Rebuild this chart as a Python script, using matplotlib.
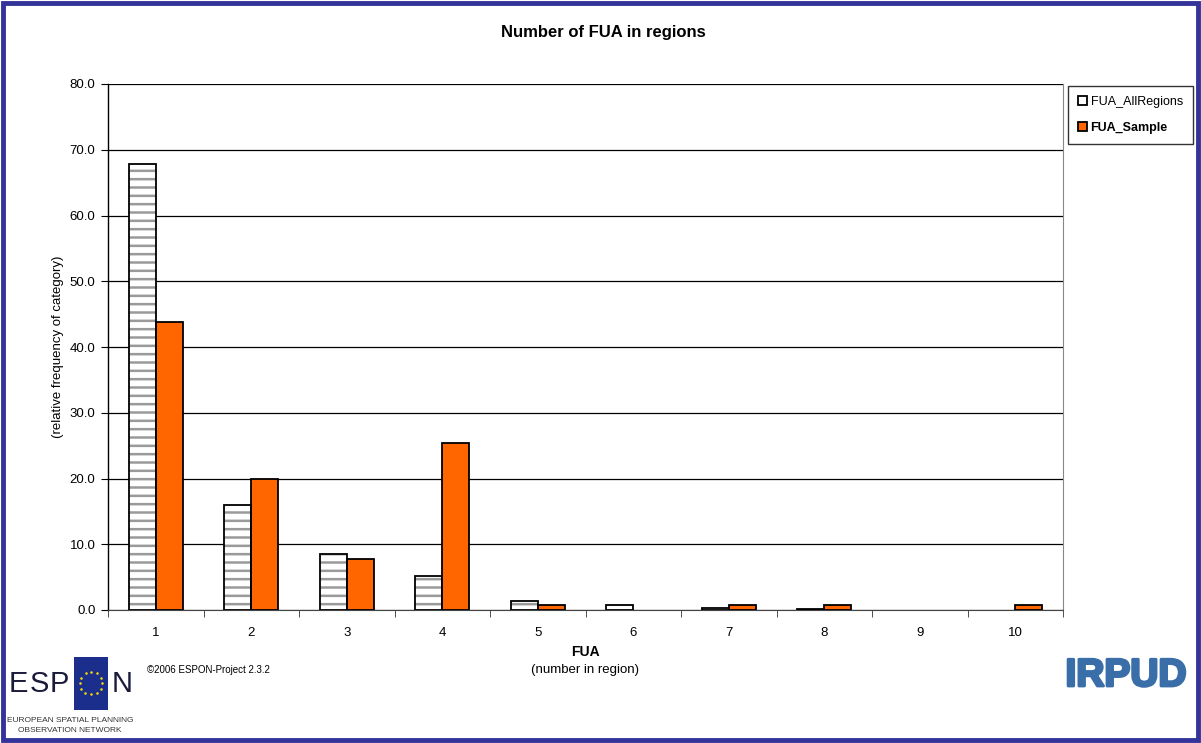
import numpy as np
import matplotlib.pyplot as plt
import matplotlib.patheffects as pe
from matplotlib.patches import Rectangle

plt.rcParams['font.family'] = ['Liberation Sans', 'DejaVu Sans']
plt.rcParams['hatch.linewidth'] = 1.8

categories = ['1', '2', '3', '4', '5', '6', '7', '8', '9', '10']
all_regions = [67.8, 15.9, 8.5, 5.2, 1.4, 0.8, 0.3, 0.15, 0.0, 0.0]
sample = [43.8, 20.0, 7.7, 25.4, 0.8, 0.0, 0.8, 0.8, 0.0, 0.8]
yticks = [0, 10, 20, 30, 40, 50, 60, 70, 80]

fig = plt.figure(figsize=(12.01, 7.43), dpi=100)
ax = fig.add_axes([108/1201, 1-610/743, (1063-108)/1201, (610-84)/743])

x = np.arange(1, len(categories)+1)
w = 0.283
# grey hatching first, then the black outline on top
h1 = ax.bar(x - w/2, all_regions, w, color='white', edgecolor='#9a9a9a', linewidth=0,
            hatch='--', zorder=3)
b1 = ax.bar(x - w/2, all_regions, w, color='none', edgecolor='black', linewidth=1.3,
            label='FUA_AllRegions', zorder=4)
b2 = ax.bar(x + w/2, sample, w, color='#ff6600', edgecolor='black', linewidth=1.3,
            label='FUA_Sample', zorder=3)
# empty categories show no bar at all
for p in list(h1) + list(b1) + list(b2):
    if p.get_height() == 0:
        p.set_visible(False)

ax.set_xlim(0.5, len(categories)+0.5)
ax.set_ylim(0, 80)
ax.set_yticks(yticks)
ax.set_yticklabels([f'{v:.1f}' for v in yticks], fontsize=9.5)
ax.set_xticks(x)
ax.set_xticklabels(categories, fontsize=9.5)
ax.set_xticks(np.arange(0.5, len(categories)+1), minor=True)
ax.tick_params(axis='x', which='major', length=0, pad=12)
ax.tick_params(axis='x', which='minor', length=5, direction='out', color='#333333')
ax.tick_params(axis='y', length=5, direction='out', pad=4)
ax.yaxis.grid(True, color='black', linewidth=0.9, zorder=0)

ax.spines['top'].set_visible(False)
ax.spines['right'].set_color('#888888')
ax.spines['left'].set_linewidth(1.0)
ax.spines['bottom'].set_color('#444444')

fig.text(58/1201, 1-347/743, '(relative frequency of category)', rotation=90,
         ha='center', va='center', fontsize=9.5)
fig.text(585/1201, 1-652/743, 'FUA', ha='center', va='center', fontsize=10, fontweight='bold')
fig.text(585/1201, 1-670/743, '(number in region)', ha='center', va='center', fontsize=9.5)

fig.text(603/1201, 1-33/743, 'Number of FUA in regions', ha='center', va='center',
         fontsize=12, fontweight='bold')

leg = ax.legend(loc='upper left', bbox_to_anchor=(1068/1201, 1-86/743),
                bbox_transform=fig.transFigure, frameon=True, fancybox=False,
                edgecolor='black', fontsize=9, handlelength=0.7, handleheight=0.7,
                handletextpad=0.3, labelspacing=1.1, borderpad=0.8, borderaxespad=0)
leg.get_frame().set_linewidth(1.0)
leg.legend_handles[0].set_facecolor('white')
leg.get_texts()[1].set_fontweight('bold')

# frame around the figure
fig.patches.append(Rectangle((3/1201, 3/743), 1-6/1201, 1-6/743, transform=fig.transFigure,
                             fill=False, edgecolor='#333399', linewidth=3.5))

# ESPON logo
for letter, lx in [('E', 18), ('S', 39), ('P', 59), ('N', 122)]:
    fig.text(lx/1201, 1-684/743, letter, ha='center', va='center', fontsize=21,
             color='#1a1a3a')
fig.patches.append(Rectangle((74/1201, 1-710/743), 34/1201, 53/743, transform=fig.transFigure,
                             facecolor='#1c2e8c', edgecolor='none'))
ang = np.linspace(0, 2*np.pi, 13)[:-1]
cx, cy = 91/1201, 1-683/743
fig.add_artist(plt.Line2D(cx + 11/1201*np.cos(ang), cy + 11/743*np.sin(ang), transform=fig.transFigure,
                          linestyle='none', marker='o', markersize=1.8, color='#ffdd00',
                          markeredgewidth=0))
fig.text(70/1201, 1-721/743, 'EUROPEAN SPATIAL PLANNING', ha='center', va='center',
         fontsize=6, color='#333333')
fig.text(70/1201, 1-731/743, 'OBSERVATION NETWORK', ha='center', va='center',
         fontsize=6, color='#333333')
fig.text(147/1201, 1-670/743, '©2006 ESPON-Project 2.3.2', ha='left', va='center', fontsize=7)

fig.text(1126/1201, 1-676/743, 'IRPUD', ha='center', va='center', fontsize=28,
         fontweight='bold', color='#3a6ea8',
         path_effects=[pe.withStroke(linewidth=2, foreground='#3a6ea8')])

fig.savefig('out.png', dpi=100)
